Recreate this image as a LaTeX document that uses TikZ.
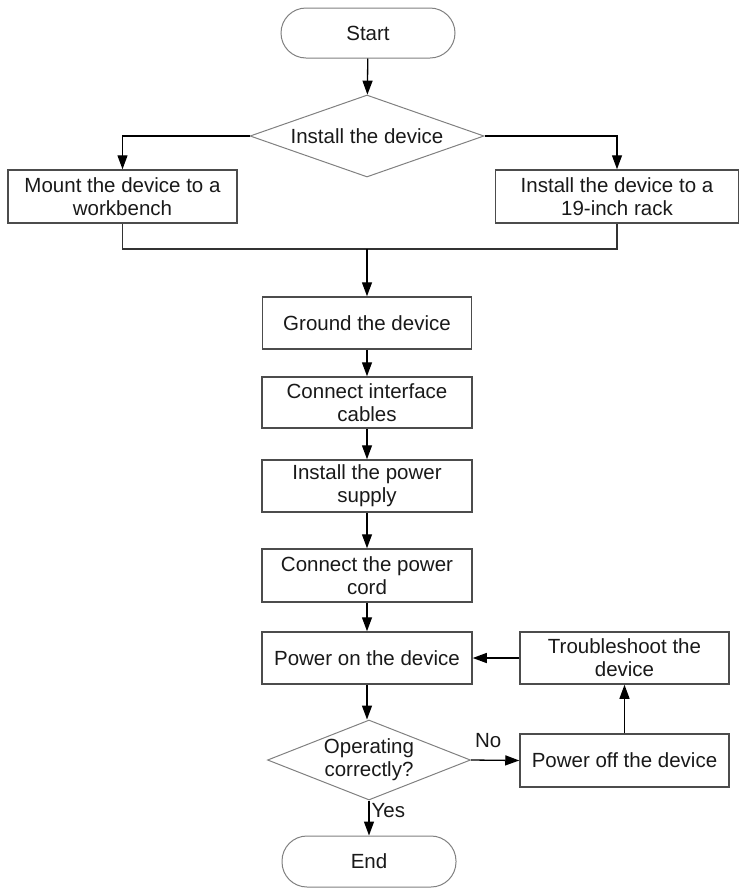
\documentclass[tikz,border=0pt]{standalone}
\usepackage{fontspec}
\setmainfont{Liberation Sans}
\usetikzlibrary{shapes.geometric,arrows.meta}
\begin{document}
\begin{tikzpicture}[x=1pt,y=-1pt,
  every node/.style={font=\fontsize{20.5}{23}\selectfont, text=black!90},
  box/.style={draw=black!70, line width=1.5pt, rectangle, align=center, inner sep=0pt},
  pill/.style={draw=black!50, line width=1pt, rectangle, rounded corners=25pt, inner sep=0pt, minimum width=174pt, minimum height=50pt},
  dec/.style={draw=black!50, line width=1pt, diamond, inner sep=0pt},
  txt/.style={align=center, inner sep=0pt},
  arr/.style={draw=black, line width=1.3pt, -{Triangle[length=14pt,width=10pt]}},
  ln/.style={draw=black!80, line width=1.3pt}
]
\useasboundingbox (0,0) rectangle (740,895);
\node[pill] (start) at (368,33) {Start};
\node[dec, minimum width=234pt, minimum height=82pt] (inst) at (367,136) {};
\node[txt] (instt) at (inst) {Install the device};
\node[box, minimum width=229pt, minimum height=53pt] (mount) at (122.5,196.5) {Mount the device to a\\workbench};
\node[box, minimum width=243pt, minimum height=53pt] (rack) at (617,196.5) {Install the device to a\\19-inch rack};
\coordinate (mL) at (122.5,249);
\coordinate (mR) at (617,249);
\coordinate (mC) at (367,249);
\node[box, minimum width=209pt, minimum height=52pt] (ground) at (367,323) {Ground the device};
\node[box, minimum width=210pt, minimum height=51pt] (conn) at (367,402.5) {Connect interface\\cables};
\node[box, minimum width=210pt, minimum height=52pt] (psu) at (367,486) {Install the power\\supply};
\node[box, minimum width=210pt, minimum height=53pt] (cord) at (367,575.5) {Connect the power\\cord};
\node[box, minimum width=210pt, minimum height=52pt] (pon) at (367,658) {Power on the device};
\node[box, minimum width=209pt, minimum height=52pt] (trb) at (624.5,658) {Troubleshoot the\\device};
\node[dec, minimum width=203pt, minimum height=80pt] (op) at (369,760) {};
\node[txt] (opt) at (op) {Operating\\correctly?};
\node[box, minimum width=209pt, minimum height=53pt] (poff) at (624.5,760.5) {Power off the device};
\node[pill, minimum height=51pt] (end) at (369,861.5) {End};

\draw[arr] (start) -- (inst);
\draw[arr] (inst.west) -| (mount.north);
\draw[arr] (inst.east) -| (rack.north);
\draw[ln] (mount.south) -- (mL) -- (mR) -- (rack.south);
\draw[arr] (mC) -- (ground.north);
\draw[arr] (ground) -- (conn);
\draw[arr] (conn) -- (psu);
\draw[arr] (psu) -- (cord);
\draw[arr] (cord) -- (pon);
\draw[arr] (trb) -- (pon);
\draw[arr] (pon.south) -- (pon.south |- op.north);
\draw[arr] (op.east) -- node[above=12pt, inner sep=0pt, xshift=-7pt] (no) {No} (poff.west);
\draw[arr] (poff) -- (trb);
\draw[arr] (op.south) -- node[right=2pt, inner sep=0pt, yshift=7pt] (yes) {Yes} (op.south |- end.north);
\end{tikzpicture}
\end{document}
